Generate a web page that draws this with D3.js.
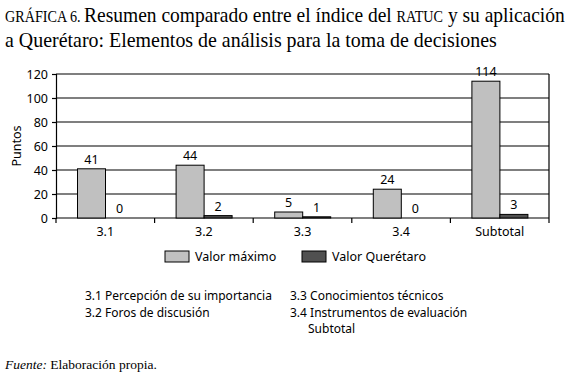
<!DOCTYPE html>
<html>
<head>
<meta charset="utf-8">
<script src="https://cdn.jsdelivr.net/npm/d3@7"></script>
<style>
  body { margin: 0; background: #fff; }
  svg { display: block; }
</style>
</head>
<body>
<div id="chart"></div>
<script>
"use strict"

// data
let categories = ["3.1", "3.2", "3.3", "3.4", "Subtotal"];
let valorMaximo = [41, 44, 5, 24, 114];
let valorQueretaro = [0, 2, 1, 0, 3];
let seriesNames = ["Valor máximo", "Valor Querétaro"];
let yTicks = [0, 20, 40, 60, 80, 100, 120];
let notesLeft = ["3.1 Percepción de su importancia", "3.2 Foros de discusión"];
let notesRight = ["3.3 Conocimientos técnicos", "3.4 Instrumentos de evaluación"];

let width = 573, height = 376;
let sansFont = "'Noto Sans', sans-serif";
let serifFont = "'Liberation Serif', serif";
let colors = ["#c0c0c0", "#505050"];
let fs = "12.5px";

let svg = d3.select("#chart").append("svg")
    .attr("width", width)
    .attr("height", height)

// title: write each line naturally, then squeeze it horizontally to the reference width
function titleLine(parts, yPos, targetWidth) {
    let g = svg.append("g")
    let t = g.append("text")
        .attr("x", 0)
        .attr("y", 0)
        .style("font-family", serifFont)
        .style("font-size", "22px")
    parts.forEach(p => {
        let span = t.append("tspan").text(p[0])
        if (p[1]) span.style("font-size", p[1])
    })
    let w = t.node().getComputedTextLength();
    g.attr("transform", "translate(5," + yPos + ") scale(" + (targetWidth / w) + ",1)")
}
titleLine([["GRÁFICA 6. ", "16px"], ["Resumen comparado entre el índice del "], ["RATUC", "16px"], [" y su aplicación"]], 22, 560)
titleLine([["a Querétaro: Elementos de análisis para la toma de decisiones"]], 47, 492)

// scales
let x = d3.scaleBand()
    .domain(categories)
    .range([56, 549])

let y = d3.scaleLinear()
    .domain([0, 120])
    .range([218, 74])

let barWidth = 28;
let barOffset = 21.5;

// grid lines
svg.append("g")
    .selectAll("line")
    .data(yTicks.filter(d => d > 0))
    .enter().append("line")
    .attr("x1", 56)
    .attr("x2", 549)
    .attr("y1", d => y(d))
    .attr("y2", d => y(d))
    .style("stroke", "#000")
    .style("stroke-width", 1.2)

// right frame edge
svg.append("line")
    .attr("x1", 549).attr("x2", 549)
    .attr("y1", y(120)).attr("y2", y(0))
    .style("stroke", "#000")
    .style("stroke-width", 1.2)

// y axis
let yAxis = svg.append("g")
    .attr("transform", "translate(56,0)")
    .call(d3.axisLeft(y).tickValues(yTicks).tickSize(4).tickPadding(4))
yAxis.selectAll("text")
    .style("font-family", sansFont)
    .style("font-size", fs)
    .style("fill", "#000")
yAxis.selectAll("line, path").style("stroke", "#000").style("stroke-width", 1.2)

// x axis
let xAxis = svg.append("g")
    .attr("transform", "translate(0," + y(0) + ")")
    .call(d3.axisBottom(x).tickSize(0).tickPadding(9))
xAxis.select("path").remove()
xAxis.selectAll("text")
    .style("font-family", sansFont)
    .style("font-size", fs)
    .style("fill", "#000")

// category boundary ticks
let bounds = categories.map(c => x(c)).concat([x.range()[1]]);
svg.append("g")
    .selectAll("line")
    .data(bounds)
    .enter().append("line")
    .attr("x1", d => d).attr("x2", d => d)
    .attr("y1", y(0)).attr("y2", y(0) + 5)
    .style("stroke", "#000")
    .style("stroke-width", 1.2)
svg.append("line")
    .attr("x1", 56).attr("x2", 549)
    .attr("y1", y(0)).attr("y2", y(0))
    .style("stroke", "#000")
    .style("stroke-width", 1.2)

// bars
let series = [valorMaximo, valorQueretaro];
for (let s = 0; s < series.length; s++) {
    let g = svg.append("g")
    g.selectAll("rect")
        .data(series[s])
        .enter().append("rect")
        .attr("x", (d, i) => x(categories[i]) + barOffset + s * barWidth)
        .attr("y", d => y(d))
        .attr("width", barWidth)
        .attr("height", d => y(0) - y(d))
        .style("fill", colors[s])
        .style("stroke", "#000")
        .style("stroke-width", 1)
    g.selectAll("text")
        .data(series[s])
        .enter().append("text")
        .attr("x", (d, i) => x(categories[i]) + barOffset + s * barWidth + barWidth / 2)
        .attr("y", d => y(d) - 5)
        .attr("text-anchor", "middle")
        .style("font-family", sansFont)
        .style("font-size", fs)
        .text(d => d)
}

// y title
svg.append("text")
    .attr("transform", "translate(21,146) rotate(-90)")
    .attr("text-anchor", "middle")
    .style("font-family", sansFont)
    .style("font-size", fs)
    .text("Puntos")

// legend
let legendX = [165, 302];
for (let s = 0; s < seriesNames.length; s++) {
    svg.append("rect")
        .attr("x", legendX[s])
        .attr("y", 251)
        .attr("width", 24)
        .attr("height", 11)
        .style("fill", colors[s])
        .style("stroke", "#000")
        .style("stroke-width", 1)
    svg.append("text")
        .attr("x", legendX[s] + 30)
        .attr("y", 261)
        .style("font-family", sansFont)
        .style("font-size", fs)
        .text(seriesNames[s])
}

// notes
let noteStyle = sel => sel.style("font-family", sansFont).style("font-size", "12px")
notesLeft.forEach((t, i) => {
    svg.append("text").attr("x", 85).attr("y", 300 + i * 16.5).call(noteStyle).text(t)
})
notesRight.forEach((t, i) => {
    svg.append("text").attr("x", 290).attr("y", 300 + i * 16.5).call(noteStyle).text(t)
})
svg.append("text").attr("x", 308).attr("y", 333).call(noteStyle).text("Subtotal")

// source
let src = svg.append("text")
    .attr("x", 5)
    .attr("y", 369)
    .style("font-family", serifFont)
    .style("font-size", "13.5px")
src.append("tspan").style("font-style", "italic").text("Fuente:")
src.append("tspan").text(" Elaboración propia.")
</script>
</body>
</html>
